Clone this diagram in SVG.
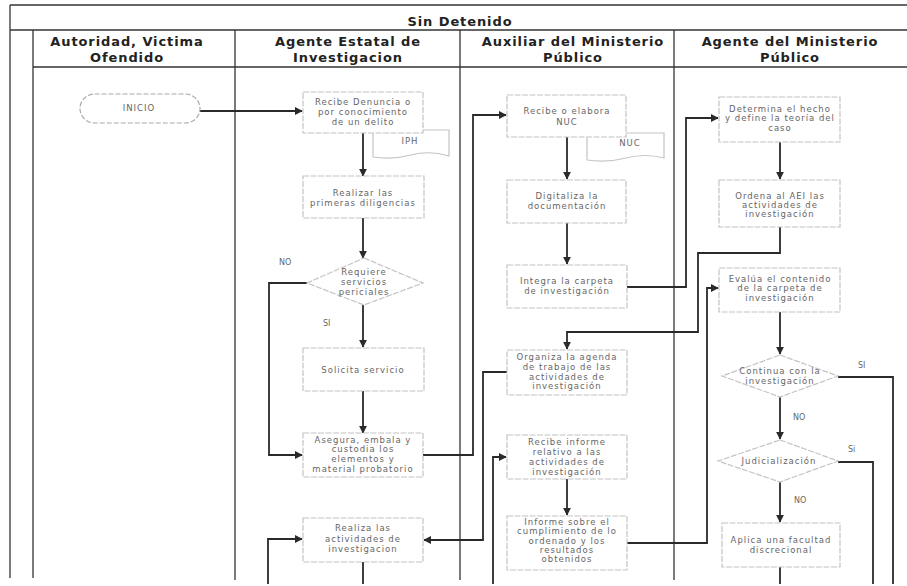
<svg xmlns="http://www.w3.org/2000/svg" width="907" height="586" viewBox="0 0 907 586">
<style>
.lane{stroke:#333;stroke-width:1.3;fill:none}
.hdr{font-family:"DejaVu Sans",sans-serif;font-weight:bold;font-size:13px;fill:#222;text-anchor:middle;letter-spacing:0.9px}
.box{fill:#fff;stroke:#c4c4c4;stroke-width:1.2;stroke-dasharray:6 1.5}
.t{font-family:"DejaVu Sans",sans-serif;font-size:8.5px;fill:#666;text-anchor:middle;letter-spacing:1px}
.lbl{font-family:"DejaVu Sans",sans-serif;font-size:8px;fill:#666}
.c{fill:none;stroke:#2a2a2a;stroke-width:1.8}
</style>
<defs>
<marker id="ah" viewBox="0 0 10 10" refX="9" refY="5" markerWidth="4.5" markerHeight="4.5" orient="auto" markerUnits="strokeWidth">
<path d="M0,0 L10,5 L0,10 Z" fill="#2a2a2a"/>
</marker>
</defs>
<rect width="907" height="586" fill="#fff"/>
<g id="lanes">
<line class="lane" x1="10" y1="5" x2="907" y2="5"/>
<line class="lane" x1="10" y1="30" x2="907" y2="30"/>
<line class="lane" x1="33" y1="67" x2="907" y2="67"/>
<line class="lane" x1="10" y1="5" x2="10" y2="578"/>
<line class="lane" x1="33" y1="30" x2="33" y2="578"/>
<line class="lane" x1="235" y1="30" x2="235" y2="580"/>
<line class="lane" x1="460" y1="30" x2="460" y2="580"/>
<line class="lane" x1="674" y1="30" x2="674" y2="580"/>
<text class="hdr" x="460" y="26">Sin Detenido</text>
<text class="hdr" x="127" y="46">Autoridad, Victima</text>
<text class="hdr" x="127" y="62">Ofendido</text>
<text class="hdr" x="348" y="46">Agente Estatal de</text>
<text class="hdr" x="348" y="62">Investigacion</text>
<text class="hdr" x="573" y="46">Auxiliar del Ministerio</text>
<text class="hdr" x="573" y="62">Público</text>
<text class="hdr" x="790" y="46">Agente del Ministerio</text>
<text class="hdr" x="790" y="62">Público</text>
</g>
<g id="connectors">
<path class="c" d="M200,111 H302" marker-end="url(#ah)"/>
<path class="c" d="M363,133 V176" marker-end="url(#ah)"/>
<path class="c" d="M363,218 V258" marker-end="url(#ah)"/>
<path class="c" d="M307,283 H269 V455 H302" marker-end="url(#ah)"/>
<path class="c" d="M363,305 V347" marker-end="url(#ah)"/>
<path class="c" d="M363,391 V433" marker-end="url(#ah)"/>
<path class="c" d="M423,455 H473 V115 H506" marker-end="url(#ah)"/>
<path class="c" d="M567,137 V179" marker-end="url(#ah)"/>
<path class="c" d="M567,223 V264" marker-end="url(#ah)"/>
<path class="c" d="M627,287 H686 V118 H718" marker-end="url(#ah)"/>
<path class="c" d="M780,142 V179" marker-end="url(#ah)"/>
<path class="c" d="M780,227 V253 H698 V332 H567 V349" marker-end="url(#ah)"/>
<path class="c" d="M507,372 H483 V540 H424" marker-end="url(#ah)"/>
<path class="c" d="M627,543 H707 V288 H718" marker-end="url(#ah)"/>
<path class="c" d="M780,312 V354" marker-end="url(#ah)"/>
<path class="c" d="M838,377 H893 V584"/>
<path class="c" d="M780,397 V439" marker-end="url(#ah)"/>
<path class="c" d="M838,462 H873 V584"/>
<path class="c" d="M780,482 V522" marker-end="url(#ah)"/>
<path class="c" d="M780,567 V584"/>
<path class="c" d="M493,584 V457 H506" marker-end="url(#ah)"/>
<path class="c" d="M268,584 V539 H302" marker-end="url(#ah)"/>
<path class="c" d="M363,562 V584"/>
<path class="c" d="M567,479 V515" marker-end="url(#ah)"/>
<text class="lbl" x="279" y="265">NO</text>
<text class="lbl" x="323" y="326">SI</text>
<text class="lbl" x="858" y="368">SI</text>
<text class="lbl" x="793" y="420">NO</text>
<text class="lbl" x="848" y="452">Si</text>
<text class="lbl" x="794" y="503">NO</text>
</g>
<g id="inicio">
<rect x="80" y="94" width="120" height="29" rx="14.5" fill="#fff" stroke="#aaa" stroke-width="1.2" stroke-dasharray="5 2"/>
<text class="t" x="139" y="111">INICIO</text>
</g>
<g id="recibe-denuncia">
<path d="M373,130 H449 V156 Q430,150 411,155 T373,157 Z" fill="#fff" stroke="#c4c4c4" stroke-width="1.2"/>
<text class="t" x="410" y="144">IPH</text>
<rect class="box" x="303" y="92" width="120" height="41"/>
<text class="t" x="363" y="105">Recibe Denuncia o</text>
<text class="t" x="363" y="115">por conocimiento</text>
<text class="t" x="363" y="125">de un delito</text>
</g>
<g id="realizar">
<rect class="box" x="303" y="176" width="121" height="42"/>
<text class="t" x="363" y="196">Realizar las</text>
<text class="t" x="363" y="206">primeras diligencias</text>
</g>
<g id="requiere">
<polygon points="364,258 423,283 364,305 307,283" fill="#fff" stroke="#c4c4c4" stroke-width="1.2" stroke-dasharray="6 1.5"/>
<text class="t" x="364" y="275">Requiere</text>
<text class="t" x="364" y="285">servicios</text>
<text class="t" x="364" y="295">periciales</text>
</g>
<g id="solicita">
<rect class="box" x="303" y="348" width="121" height="43"/>
<text class="t" x="363" y="373">Solicita servicio</text>
</g>
<g id="asegura">
<rect class="box" x="303" y="433" width="120" height="44"/>
<text class="t" x="363" y="443">Asegura, embala y</text>
<text class="t" x="363" y="452">custodia los</text>
<text class="t" x="363" y="462">elementos y</text>
<text class="t" x="363" y="472">material probatorio</text>
</g>
<g id="realiza">
<rect class="box" x="303" y="518" width="120" height="44"/>
<text class="t" x="363" y="531">Realiza las</text>
<text class="t" x="363" y="542">actividades de</text>
<text class="t" x="363" y="552">investigacion</text>
</g>
<g id="recibe-nuc">
<path d="M587,133 H664 V158 Q645,153 626,158 T587,160 Z" fill="#fff" stroke="#c4c4c4" stroke-width="1.2"/>
<text class="t" x="630" y="146">NUC</text>
<rect class="box" x="507" y="95" width="119" height="42"/>
<text class="t" x="567" y="114">Recibe o elabora</text>
<text class="t" x="567" y="125">NUC</text>
</g>
<g id="digitaliza">
<rect class="box" x="507" y="180" width="119" height="43"/>
<text class="t" x="567" y="199">Digitaliza la</text>
<text class="t" x="567" y="209">documentación</text>
</g>
<g id="integra">
<rect class="box" x="507" y="265" width="120" height="43"/>
<text class="t" x="567" y="284">Integra la carpeta</text>
<text class="t" x="567" y="294">de investigación</text>
</g>
<g id="organiza">
<rect class="box" x="507" y="350" width="120" height="45"/>
<text class="t" x="567" y="360">Organiza la agenda</text>
<text class="t" x="567" y="370">de trabajo de las</text>
<text class="t" x="567" y="380">actividades de</text>
<text class="t" x="567" y="389">investigación</text>
</g>
<g id="recibe-informe">
<rect class="box" x="507" y="435" width="120" height="44"/>
<text class="t" x="567" y="445">Recibe informe</text>
<text class="t" x="567" y="455">relativo a las</text>
<text class="t" x="567" y="465">actividades de</text>
<text class="t" x="567" y="475">investigación</text>
</g>
<g id="informe">
<rect class="box" x="507" y="516" width="120" height="54"/>
<text class="t" x="567" y="525">Informe sobre el</text>
<text class="t" x="567" y="534">cumplimiento de lo</text>
<text class="t" x="567" y="544">ordenado y los</text>
<text class="t" x="567" y="553">resultados</text>
<text class="t" x="567" y="562">obtenidos</text>
</g>
<g id="determina">
<rect class="box" x="719" y="97" width="121" height="45"/>
<text class="t" x="780" y="112">Determina el hecho</text>
<text class="t" x="780" y="121">y define la teoría del</text>
<text class="t" x="780" y="131">caso</text>
</g>
<g id="ordena">
<rect class="box" x="719" y="180" width="121" height="47"/>
<text class="t" x="780" y="199">Ordena al AEI las</text>
<text class="t" x="780" y="208">actividades de</text>
<text class="t" x="780" y="217">investigación</text>
</g>
<g id="evalua">
<rect class="box" x="719" y="268" width="121" height="44"/>
<text class="t" x="780" y="282">Evalúa el contenido</text>
<text class="t" x="780" y="291">de la carpeta de</text>
<text class="t" x="780" y="301">investigación</text>
</g>
<g id="continua">
<polygon points="780,355 838,376 780,397 722,376" fill="#fff" stroke="#c4c4c4" stroke-width="1.2" stroke-dasharray="6 1.5"/>
<text class="t" x="780" y="374">Continua con la</text>
<text class="t" x="780" y="384">investigación</text>
</g>
<g id="judicializacion">
<polygon points="780,440 838,461 780,482 718,461" fill="#fff" stroke="#c4c4c4" stroke-width="1.2" stroke-dasharray="6 1.5"/>
<text class="t" x="779" y="464">Judicialización</text>
</g>
<g id="aplica">
<rect class="box" x="722" y="523" width="118" height="44"/>
<text class="t" x="781" y="543">Aplica una facultad</text>
<text class="t" x="781" y="553">discrecional</text>
</g>
</svg>
